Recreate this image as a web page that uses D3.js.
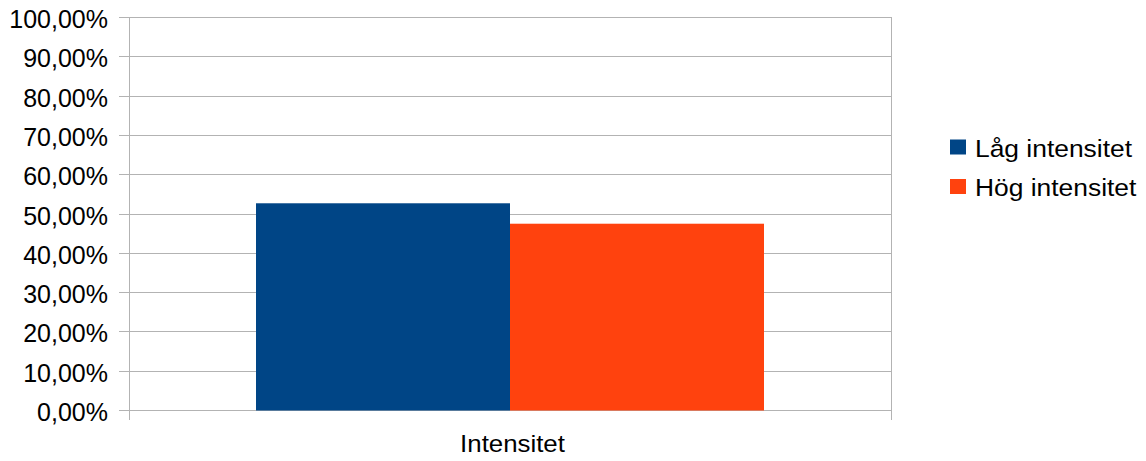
<!DOCTYPE html>
<html><head><meta charset="utf-8">
<script src="https://cdn.jsdelivr.net/npm/d3@7"></script>
<style>body{margin:0;background:#fff;} text{font-family:"Liberation Sans",Arial,sans-serif;fill:#000;}</style>
</head><body><svg id="c" width="1146" height="461"></svg>
<script>
const categories = ["Intensitet"];
const seriesNames = ["Låg intensitet", "Hög intensitet"];
const seriesValues = [[0.526], [0.474]];
const colors = ["#004586", "#ff420e"];
const yTicks = [0,0.1,0.2,0.3,0.4,0.5,0.6,0.7,0.8,0.9,1.0];

const svg = d3.select("#c");
const L=129, R=891, T=17, B=410;
const y = d3.scaleLinear().domain([0,1]).range([B,T]);
const x0 = d3.scaleBand().domain(categories).range([L,R]).padding(0);
const x1 = d3.scaleBand().domain(seriesNames).range([0,x0.bandwidth()]).paddingInner(0).paddingOuter(0.5);
const fmt = v => d3.format(".2f")(v*100).replace(".", ",") + "%";

function label(x, yy, txt, anchor, size, sx){
  return svg.append("text").attr("transform",`translate(${x},${yy}) scale(${sx},1)`)
    .attr("text-anchor",anchor).attr("font-size",size).text(txt);
}

// gridlines
svg.append("g").selectAll("line").data(yTicks).join("line")
  .attr("x1",L-10).attr("x2",R).attr("y1",d=>Math.round(y(d))+0.5).attr("y2",d=>Math.round(y(d))+0.5)
  .attr("stroke","#b3b3b3").attr("stroke-width",1);
// axes vertical lines
[L,R].forEach(xx=>svg.append("line").attr("x1",xx+0.5).attr("x2",xx+0.5).attr("y1",T).attr("y2",B+10)
  .attr("stroke","#b3b3b3"));
// y labels
yTicks.forEach(d=>label(108, y(d)+11, fmt(d), "end", 25, 1));

// bars
categories.forEach((c,ci)=>{
  seriesNames.forEach((s,si)=>{
    const v = seriesValues[si][ci];
    svg.append("rect").attr("x",x0(c)+x1(s)).attr("width",x1.bandwidth())
      .attr("y",y(v)).attr("height",B-y(v)+0.5).attr("fill",colors[si]);
  });
  label(x0(c)+x0.bandwidth()/2+2.5, 452, c, "middle", 23.5, 1.1);
});

// legend
seriesNames.forEach((s,i)=>{
  const yy = 139.5 + i*39.5;
  svg.append("rect").attr("x",950).attr("y",yy).attr("width",16).attr("height",15).attr("fill",colors[i]);
  label(975, yy+17, s, "start", 24, 1.1);
});
</script></body></html>
